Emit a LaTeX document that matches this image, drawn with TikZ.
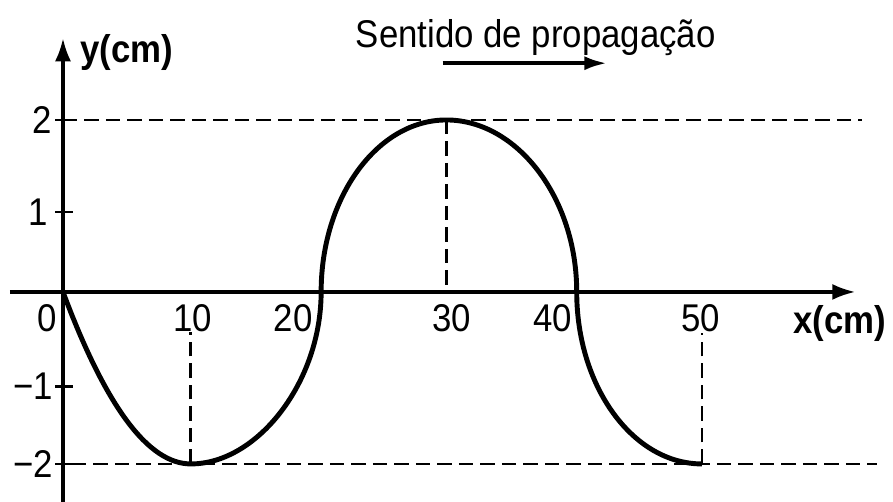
\documentclass[tikz,border=0pt]{standalone}
\usepackage{fontspec}
\setmainfont{Liberation Sans}[FakeStretch=0.9]
\usetikzlibrary{arrows.meta}

\tikzset{
  axisline/.style={line width=1.8pt, -{Latex[length=4.6mm,width=3.2mm]}},
  guide/.style={line width=1.6pt, dash pattern=on 2.9mm off 1.4mm},
  wave/.style={line width=2.8pt},
  tick/.style={line width=1.5pt},
  numlabel/.style={font=\fontsize{22}{26}\selectfont, inner sep=0pt},
  unitlabel/.style={font=\fontsize{22}{26}\selectfont\bfseries, inner sep=0pt},
}

\begin{document}
\begin{tikzpicture}[x=2.556mm, y=17.2mm]
            \useasboundingbox (-4.93,-2.442) rectangle (64.95,3.395);

            % Dashed guides
            \draw[guide] (0,2) -- (62.5,2);
            \draw[guide] (0.7,-2) -- (63.7,-2);
            \draw[guide] (10,-2) -- (10,-0.47);
            \draw[guide] (30,2) -- (30,0);
            \draw[guide] (50,-2) -- (50,-0.48);

            % Axes
            \draw[axisline] (-4.15,0) -- (62,0);
            \draw[axisline] (0,-2.45) -- (0,2.95);

            % Ticks on the y axis
            \draw[tick] (-0.6,2) -- (0.75,2);
            \draw[tick] (-0.6,0.93) -- (0.75,0.93);
            \draw[tick] (-0.6,-1.1) -- (0.75,-1.1);
            \draw[tick] (-0.6,-2) -- (0.75,-2);

            % Wave
            \draw[wave] (0,0) .. controls (3.33,-1.33) and (6.67,-2) .. (10,-2)
                .. controls (15.2,-2) and (20.2,-1.05) .. (20.2,0)
                .. controls (20.2,1.1) and (24.6,2) .. (30,2)
                .. controls (35.5,2) and (40.2,1.1) .. (40.2,0)
                .. controls (40.2,-1.1) and (44.6,-2) .. (50,-2);

            % Labels on the x axis
            \node[numlabel, anchor=base] (x0) at (-1.25,-0.465) {0};
            \node[numlabel, anchor=base] (x10) at (10.17,-0.465) {10};
            \node[numlabel, anchor=base] (x20) at (18.0,-0.465) {20};
            \node[numlabel, anchor=base] (x30) at (30.4,-0.465) {30};
            \node[numlabel, anchor=base] (x40) at (38.3,-0.465) {40};
            \node[numlabel, anchor=base] (x50) at (49.9,-0.465) {50};
            \node[unitlabel, anchor=base] (xunit) at (60.8,-0.48) {x(cm)};

            % Labels on the y axis
            \node[numlabel, anchor=east] (y2) at (-0.86,2) {2};
            \node[numlabel, anchor=east] (y1) at (-1.17,0.93) {1};
            \node[numlabel, anchor=east] (ym1) at (-0.78,-1.1) {−1};
            \node[numlabel, anchor=east] (ym2) at (-0.78,-2) {−2};
            \node[unitlabel, anchor=base] (yunit) at (4.97,2.67) {y(cm)};

            % Direction of travel
            \node[numlabel, anchor=base] (title) at (37.0,2.84) {Sentido de propagação};
            \coordinate (dirstart) at (29.7,2.66);
            \coordinate (dirend) at (42.6,2.66);
            \draw[line width=2.4pt, -{Latex[length=4.6mm,width=2.8mm]}] (dirstart) -- (dirend);
        \end{tikzpicture}
\end{document}
